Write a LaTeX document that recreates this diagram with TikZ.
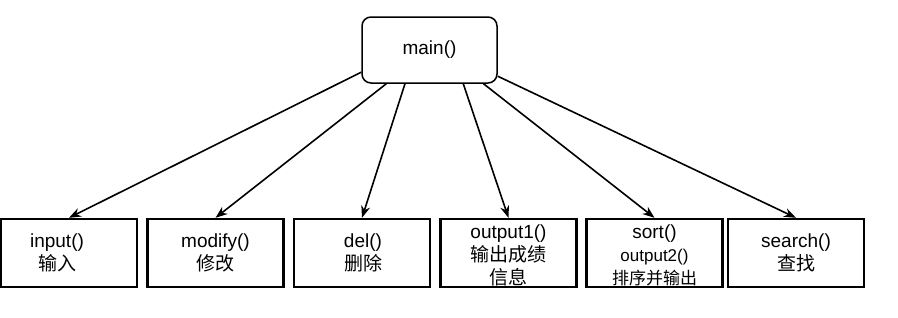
\documentclass[tikz,border=0pt]{standalone}
\usepackage{fontspec}
\setmainfont{Liberation Sans}
\newfontfamily\cjk{Noto Sans CJK SC}
\usetikzlibrary{arrows.meta}
\begin{document}
\begin{tikzpicture}[x=1pt,y=-1pt,
  fbox/.style={draw,line width=2.4pt,minimum width=136pt,minimum height=68pt,inner sep=0pt},
  mbox/.style={draw,line width=1.5pt,rounded corners=9pt,minimum width=135pt,minimum height=66pt,inner sep=0pt,font=\fontsize{19}{23}\selectfont},
  lbl/.style={align=center,inner sep=0pt,font=\fontsize{19}{23}\selectfont},
  conn/.style={line width=1.6pt,-{Stealth[length=12pt,width=9pt]}}]
\useasboundingbox (0,0) rectangle (898,317);
\node[mbox] (main) at (429.5,50) {main()};
\node[fbox] (b1) at (69,253) {};
\node[fbox] (b2) at (215.5,253) {};
\node[fbox] (b3) at (362,253) {};
\node[fbox] (b4) at (508.5,253) {};
\node[fbox] (b5) at (654.5,253) {};
\node[fbox] (b6) at (796,253) {};
\node[lbl] (t1) at (57,253) {input()\\{\cjk 输入}};
\node[lbl] (t2) at (215.5,253) {modify()\\{\cjk 修改}};
\node[lbl] (t3) at (363,253) {del()\\{\cjk 删除}};
\node[lbl] (t4) at (508.5,255) {output1()\\{\cjk 输出成绩}\\{\cjk 信息}};
\node[lbl] (t5) at (654.5,255) {sort()\\{\fontsize{17}{23}\selectfont output2()}\\{\cjk\fontsize{17}{23}\selectfont 排序并输出}};
\node[lbl] (t6) at (796,253) {search()\\{\cjk 查找}};
\draw[conn] (main.198.8) -- (b1.north);
\draw[conn] (main.218.7) -- (b2.north);
\draw[conn] (main.234.2) -- (b3.north);
\draw[conn] (main.315.4) -- (b4.north);
\draw[conn] (main.328.5) -- (b5.north);
\draw[conn] (main.339.7) -- (b6.north);
\end{tikzpicture}
\end{document}
